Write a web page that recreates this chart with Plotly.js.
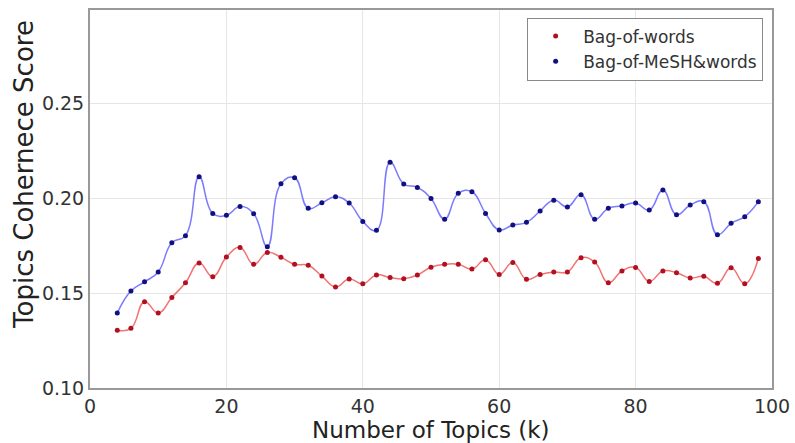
<!DOCTYPE html>
<html>
<head>
<meta charset="utf-8">
<script src="https://cdn.plot.ly/plotly-3.0.1.min.js"></script>
<style>html,body{margin:0;padding:0;background:#fff;}#chart{width:795px;height:443px;}</style>
</head>
<body>
<div id="chart"></div>
<script>
const topics = [4,6,8,10,12,14,16,18,20,22,24,26,28,30,32,34,36,38,40,42,44,46,48,50,52,54,56,58,60,62,64,66,68,70,72,74,76,78,80,82,84,86,88,90,92,94,96,98];
const bagOfWords = [0.1304,0.1314,0.1454,0.1395,0.1477,0.1554,0.1658,0.1586,0.1689,0.1740,0.1651,0.1714,0.1688,0.1651,0.1646,0.1589,0.1532,0.1574,0.1549,0.1595,0.1582,0.1575,0.1595,0.1636,0.1651,0.1651,0.1626,0.1675,0.1598,0.1661,0.1572,0.1598,0.1611,0.1611,0.1686,0.1663,0.1554,0.1616,0.1635,0.1561,0.1616,0.1607,0.1579,0.1588,0.1551,0.1633,0.1549,0.1682];
const bagOfMeshWords = [0.1395,0.1511,0.1559,0.1611,0.1765,0.1802,0.2112,0.1919,0.1909,0.1956,0.1918,0.1744,0.2075,0.2107,0.1946,0.1975,0.2007,0.1974,0.1877,0.1830,0.2188,0.2074,0.2056,0.1997,0.1889,0.2025,0.2033,0.1919,0.1832,0.1858,0.1872,0.1932,0.1989,0.1953,0.2018,0.1888,0.1946,0.1958,0.1974,0.1937,0.2042,0.1912,0.1963,0.1981,0.1807,0.1867,0.1902,0.1981];
const seriesNames = ["Bag-of-words","Bag-of-MeSH&words"];
const xTicks = [0,20,40,60,80,100];
const yTicks = [0.10,0.15,0.20,0.25];
const xTitle = "Number of Topics (k)";
const yTitle = "Topics Cohernece Score";

const font = "DejaVu Sans, sans-serif";
const traces = [
  {x: topics, y: bagOfWords, mode: "lines", line: {shape: "spline", smoothing: 1.3, color: "rgba(240,90,90,0.85)", width: 1.5}, showlegend: false, hoverinfo: "skip"},
  {x: topics, y: bagOfMeshWords, mode: "lines", line: {shape: "spline", smoothing: 1.3, color: "rgba(100,100,255,0.85)", width: 1.5}, showlegend: false, hoverinfo: "skip"},
  {x: topics, y: bagOfWords, mode: "markers", name: seriesNames[0], marker: {color: "#b01020", size: 5}},
  {x: topics, y: bagOfMeshWords, mode: "markers", name: seriesNames[1], marker: {color: "#101080", size: 5}}
];
const layout = {
  width: 795, height: 443,
  margin: {l: 90, r: 23, t: 10, b: 55},
  paper_bgcolor: "#fff", plot_bgcolor: "#fff",
  font: {family: font, color: "#333"},
  xaxis: {
    range: [0, 100], tickvals: xTicks, ticktext: xTicks.map(String),
    showgrid: true, gridcolor: "#e6e6e6", zeroline: false,
    showline: true, mirror: true, linecolor: "#999", linewidth: 2,
    ticks: "", tickfont: {size: 19, color: "#333"}
  },
  yaxis: {
    range: [0.10, 0.299], tickvals: yTicks, ticktext: yTicks.map(v => v.toFixed(2)),
    showgrid: true, gridcolor: "#e6e6e6", zeroline: false,
    showline: true, mirror: true, linecolor: "#999", linewidth: 2,
    ticks: "", tickfont: {size: 19, color: "#333"}
  },
  annotations: [{
    text: yTitle, textangle: -90, showarrow: false,
    xref: "paper", yref: "paper", x: -0.097, y: 0.566,
    xanchor: "center", yanchor: "middle",
    font: {size: 26, color: "#222"}
  }, {
    text: xTitle, showarrow: false,
    xref: "paper", yref: "paper", x: 0.5, y: -0.112,
    xanchor: "center", yanchor: "middle",
    font: {size: 23, color: "#222"}
  }],
  legend: {
    x: 0.987, y: 0.98, xanchor: "right", yanchor: "top",
    bgcolor: "#fff", bordercolor: "#888", borderwidth: 1,
    itemwidth: 45,
    font: {size: 17, color: "#333"}
  }
};
Plotly.newPlot("chart", traces, layout, {displayModeBar: false, staticPlot: true});
</script>
</body>
</html>
